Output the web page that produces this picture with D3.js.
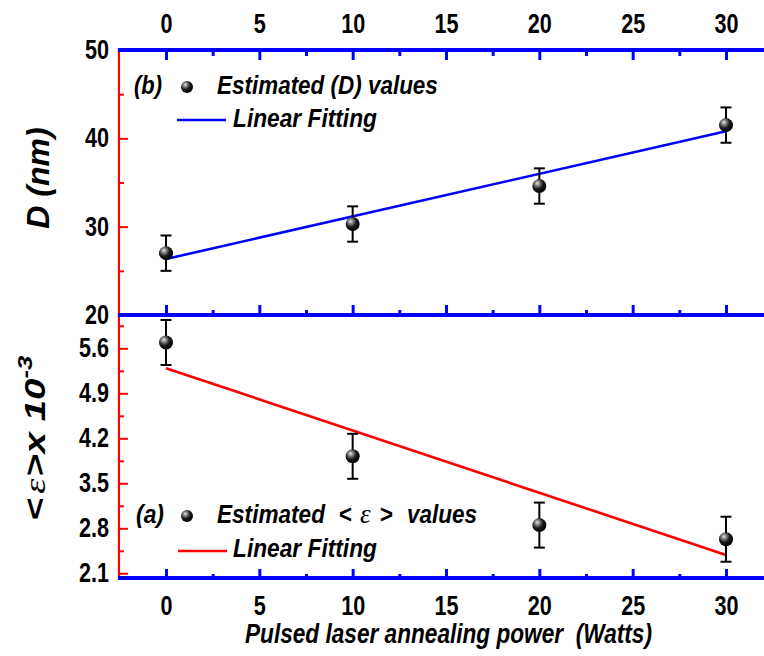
<!DOCTYPE html>
<html>
<head>
<meta charset="utf-8">
<script src="https://cdn.jsdelivr.net/npm/d3@7"></script>
<style>
  html, body { margin: 0; padding: 0; background: #fff; }
  svg { display: block; }
  .narrow { font-family: "Liberation Sans", Arial, sans-serif; font-weight: bold; }
</style>
</head>
<body>
<svg id="chart" width="764" height="656"></svg>
<script>
// ---- data ----
const power = [0, 10, 20, 30];                 // Pulsed laser annealing power (Watts)
const crystalliteSize = [27.0, 30.3, 34.6, 41.5]; // D (nm)
const crystalliteErr = [2.0, 2.0, 2.0, 2.0];
const strain = [5.69, 3.92, 2.85, 2.63];       // <ε> x 10^-3
const strainErr = [0.35, 0.35, 0.35, 0.35];
const fitPower = [0, 30];
const fitSize = [26.34, 40.8];
const fitStrain = [5.29, 2.385];
const xTicks = [0, 5, 10, 15, 20, 25, 30];
const xMinorTicks = [2.5, 7.5, 12.5, 17.5, 22.5, 27.5];
const sizeTicks = [20, 30, 40, 50];
const sizeMinorTicks = [25, 35, 45];
const strainTicks = [2.1, 2.8, 3.5, 4.2, 4.9, 5.6];
const strainMinorTicks = [2.45, 3.15, 3.85, 4.55, 5.25, 5.95];

const svg = d3.select("#chart");
const BLUE = "#0000ff", RED = "#ff0000";

const x = d3.scaleLinear().domain([0, 30]).range([166, 726]);
const yD = d3.scaleLinear().domain([20, 50]).range([315, 50]);
const yS = d3.scaleLinear().domain([2.1, 5.6]).range([573.3, 348.3]);

const xLeft = x(-2.52), xRight = x(34);
const yTop = yD(50), yMid = yD(20), yBot = 578;

// condense a text horizontally (narrow face emulation) with a transform
function condense(sel, opts, rotate) {
  sel.each(function () {
    const t = d3.select(this);
    const w = this.getComputedTextLength();
    const s = opts.width ? opts.width / w : opts.factor;
    const tx = +t.attr("x") || 0, ty = +t.attr("y") || 0;
    t.attr("x", 0).attr("y", 0)
      .attr("transform", `translate(${tx},${ty})${rotate ? ` rotate(${rotate})` : ""} scale(${s},1)`);
  });
}

// sphere gradient
const defs = svg.append("defs");
const grad = defs.append("radialGradient").attr("id", "sphere")
  .attr("cx", "38%").attr("cy", "35%").attr("r", "65%").attr("fx", "35%").attr("fy", "30%");
grad.append("stop").attr("offset", "0%").attr("stop-color", "#e8e8e8");
grad.append("stop").attr("offset", "25%").attr("stop-color", "#8a8a8a");
grad.append("stop").attr("offset", "60%").attr("stop-color", "#1a1a1a");
grad.append("stop").attr("offset", "100%").attr("stop-color", "#000");

function styleAxis(g, color, width) {
  g.select(".domain").remove();
  g.selectAll(".tick line").attr("stroke", color).attr("stroke-width", width);
  const t = g.selectAll(".tick text").attr("class", "narrow").attr("fill", "#000")
    .style("font-size", "27px").style("font-family", null);
  condense(t, { factor: 0.8 });
}

// ---- left red axes ----
const gLeftD = svg.append("g").attr("transform", `translate(${xLeft},0)`)
  .call(d3.axisLeft(yD).tickValues(sizeTicks).tickSizeInner(-9).tickSizeOuter(0).tickPadding(10));
styleAxis(gLeftD, RED, 2);
const gLeftDm = svg.append("g").attr("transform", `translate(${xLeft},0)`)
  .call(d3.axisLeft(yD).tickValues(sizeMinorTicks).tickSizeInner(-5).tickFormat(""));
styleAxis(gLeftDm, RED, 2);

const gLeftS = svg.append("g").attr("transform", `translate(${xLeft},0)`)
  .call(d3.axisLeft(yS).tickValues(strainTicks).tickSizeInner(-9).tickSizeOuter(0).tickPadding(10).tickFormat(d3.format(".1f")));
styleAxis(gLeftS, RED, 2);
const gLeftSm = svg.append("g").attr("transform", `translate(${xLeft},0)`)
  .call(d3.axisLeft(yS).tickValues(strainMinorTicks).tickSizeInner(-5).tickFormat(""));
styleAxis(gLeftSm, RED, 2);

svg.append("line").attr("x1", xLeft).attr("x2", xLeft).attr("y1", yTop).attr("y2", yBot)
  .attr("stroke", RED).attr("stroke-width", 2.2);

// ---- top axis ----
const gTop = svg.append("g").attr("transform", `translate(0,${yTop})`)
  .call(d3.axisTop(x).tickValues(xTicks).tickSizeInner(-10).tickSizeOuter(0).tickPadding(17));
styleAxis(gTop, BLUE, 3);
const gTopM = svg.append("g").attr("transform", `translate(0,${yTop})`)
  .call(d3.axisTop(x).tickValues(xMinorTicks).tickSizeInner(-6).tickFormat(""));
styleAxis(gTopM, BLUE, 3);

// ---- middle axis (ticks up) ----
const gMid = svg.append("g").attr("transform", `translate(0,${yMid})`)
  .call(d3.axisBottom(x).tickValues(xTicks).tickSizeInner(-10).tickFormat(""));
styleAxis(gMid, BLUE, 3);
const gMidM = svg.append("g").attr("transform", `translate(0,${yMid})`)
  .call(d3.axisBottom(x).tickValues(xMinorTicks).tickSizeInner(-5).tickFormat(""));
styleAxis(gMidM, BLUE, 3);

// ---- bottom axis ----
const gBot = svg.append("g").attr("transform", `translate(0,${yBot})`)
  .call(d3.axisBottom(x).tickValues(xTicks).tickSizeInner(-9).tickSizeOuter(0).tickPadding(18));
styleAxis(gBot, BLUE, 3);
const gBotM = svg.append("g").attr("transform", `translate(0,${yBot})`)
  .call(d3.axisBottom(x).tickValues(xMinorTicks).tickSizeInner(-4).tickFormat(""));
styleAxis(gBotM, BLUE, 3);

[yTop, yMid, yBot].forEach(yy => {
  svg.append("line").attr("x1", xLeft - 1).attr("x2", xRight).attr("y1", yy).attr("y2", yy)
    .attr("stroke", BLUE).attr("stroke-width", 4);
});

// ---- fit lines ----
const fitD = fitPower.map((p, i) => [p, fitSize[i]]);
const fitS = fitPower.map((p, i) => [p, fitStrain[i]]);
svg.append("path").datum(fitD)
  .attr("d", d3.line().x(d => x(d[0])).y(d => yD(d[1])))
  .attr("fill", "none").attr("stroke", BLUE).attr("stroke-width", 2.6);
svg.append("path").datum(fitS)
  .attr("d", d3.line().x(d => x(d[0])).y(d => yS(d[1])))
  .attr("fill", "none").attr("stroke", RED).attr("stroke-width", 2.6);

// ---- error bars + spheres ----
function drawPoints(vals, errs, y) {
  const data = power.map((p, i) => ({ p, v: vals[i], e: errs[i] }));
  const g = svg.append("g");
  const eb = g.selectAll("g.eb").data(data).enter().append("g").attr("class", "eb")
    .attr("stroke", "#000").attr("stroke-width", 2);
  eb.append("line").attr("x1", d => x(d.p)).attr("x2", d => x(d.p))
    .attr("y1", d => y(d.v + d.e)).attr("y2", d => y(d.v - d.e));
  eb.append("line").attr("x1", d => x(d.p) - 5.5).attr("x2", d => x(d.p) + 5.5)
    .attr("y1", d => y(d.v + d.e)).attr("y2", d => y(d.v + d.e));
  eb.append("line").attr("x1", d => x(d.p) - 5.5).attr("x2", d => x(d.p) + 5.5)
    .attr("y1", d => y(d.v - d.e)).attr("y2", d => y(d.v - d.e));
  g.selectAll("circle").data(data).enter().append("circle")
    .attr("cx", d => x(d.p)).attr("cy", d => y(d.v)).attr("r", 7)
    .attr("fill", "url(#sphere)");
}
drawPoints(crystalliteSize, crystalliteErr, yD);
drawPoints(strain, strainErr, yS);

// ---- legends ----
function legendText(xx, yy, txt, width, italic = true) {
  const t = svg.append("text").attr("class", "narrow").attr("x", xx).attr("y", yy)
    .style("font-size", "26px").style("font-style", italic ? "italic" : "normal").text(txt);
  if (width) condense(t, { width });
  return t;
}
legendText(134, 94, "(b)", 28);
svg.append("circle").attr("cx", 187).attr("cy", 87).attr("r", 6).attr("fill", "url(#sphere)");
legendText(217, 94, "Estimated (D) values", 221);
svg.append("line").attr("x1", 177).attr("x2", 226).attr("y1", 120).attr("y2", 120)
  .attr("stroke", BLUE).attr("stroke-width", 2.6);
legendText(233, 127, "Linear Fitting", 144);

legendText(136, 523, "(a)", 28);
svg.append("circle").attr("cx", 187).attr("cy", 516).attr("r", 6).attr("fill", "url(#sphere)");
legendText(217, 523, "Estimated", 108);
legendText(339, 523, "<", 13, false);
svg.append("text").attr("x", 360).attr("y", 523)
  .style("font-family", "'Liberation Serif', 'Times New Roman', serif")
  .style("font-style", "italic").style("font-size", "27px").text("ε");
legendText(380, 523, ">", 13, false);
legendText(407, 523, "values", 70);
svg.append("line").attr("x1", 178).attr("x2", 227).attr("y1", 551).attr("y2", 551)
  .attr("stroke", RED).attr("stroke-width", 2.6);
legendText(233, 557, "Linear Fitting", 144);

// ---- axis titles ----
const xt = svg.append("text").attr("class", "narrow")
  .attr("x", 245).attr("y", 643)
  .style("font-size", "27px").style("font-style", "italic").style("white-space", "pre")
  .text("Pulsed laser annealing power  (Watts)");
condense(xt, { width: 407 });

svg.append("text")
  .attr("transform", "translate(49,178) rotate(-90)")
  .attr("text-anchor", "middle")
  .style("font-family", "'Liberation Sans', Arial, sans-serif").style("font-weight", "bold")
  .style("font-style", "italic").style("font-size", "32px")
  .text("D (nm)");

const yt = svg.append("text")
  .attr("x", 45).attr("y", 520)
  .style("font-family", "'Liberation Sans', Arial, sans-serif").style("font-weight", "bold")
  .style("font-size", "30px");
yt.append("tspan").text("<");
yt.append("tspan").style("font-family", "'Liberation Serif', 'Times New Roman', serif")
  .style("font-weight", "normal").style("font-style", "italic").attr("dx", 3).text("ε");
yt.append("tspan").attr("dx", 2).text(">");
yt.append("tspan").style("font-style", "italic").text("x 10");
yt.append("tspan").attr("dy", -13).style("font-size", "20px").style("font-style", "italic").text("-3");
condense(yt, { width: 158 }, -90);
</script>
</body>
</html>
